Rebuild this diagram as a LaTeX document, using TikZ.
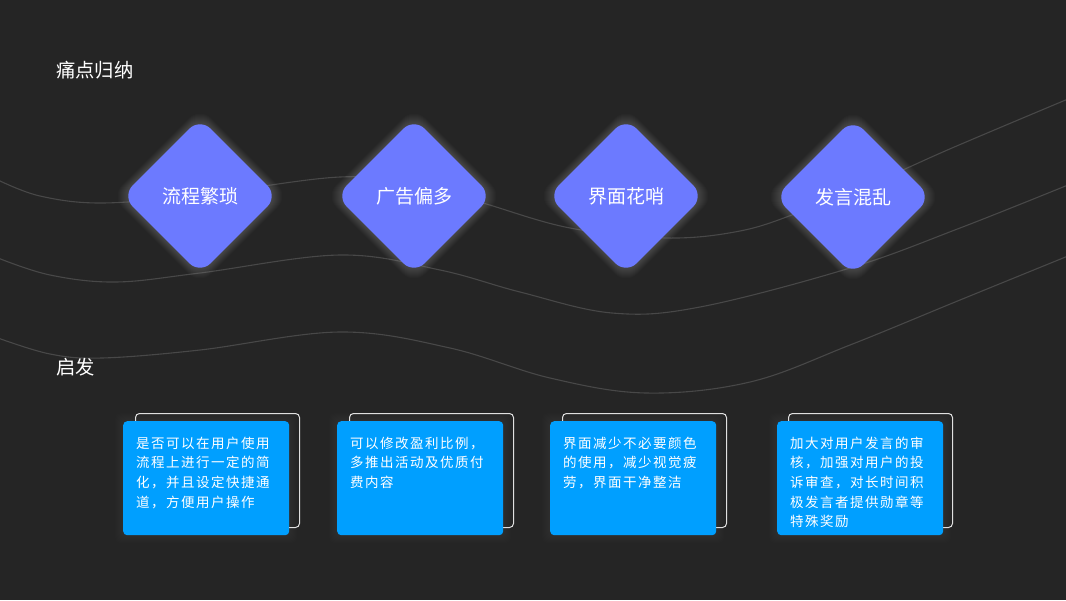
\documentclass[tikz,border=0pt]{standalone}
\usepackage{fontspec}
\setmainfont{Noto Sans CJK SC}
\newfontfamily\cardfont[LetterSpace=11]{Noto Sans CJK SC}
\usetikzlibrary{shapes.geometric}
\definecolor{bg}{RGB}{37,37,37}
\definecolor{dia}{RGB}{108,122,255}
\definecolor{cardblue}{RGB}{0,159,255}
\definecolor{wave}{RGB}{72,72,72}
\tikzset{
  wavecurve/.style={draw=wave, line width=1.1pt},
  title/.style={anchor=west, inner sep=0pt, text=white, font=\fontsize{19.3}{19.3}\selectfont},
  diabox/.style={diamond, aspect=1, minimum size=156pt, inner sep=0pt, rounded corners=15pt,
     fill=dia, text=white, font=\fontsize{19}{19}\selectfont},
  card/.style={rectangle, anchor=north west, inner sep=0pt, minimum width=166pt, minimum height=114pt,
     fill=cardblue, rounded corners=4pt},
  cardline/.style={rectangle, anchor=north west, inner sep=0pt, minimum width=164pt, minimum height=114pt,
     draw=white!88!black, line width=1pt, rounded corners=4pt},
  cardtext/.style={anchor=north west, inner sep=0pt, text=white, align=left, text width=160pt,
     font=\cardfont\fontsize{13.5}{19.7}\selectfont},
}
\newcommand{\glowdia}[2]{%
  \foreach \k in {1,...,12}{%
    \pgfmathsetmacro{\h}{77+\k}%
    \fill[white, opacity=0.014, rounded corners=16pt]
      (#1+\h/2,#2-\h/2) -- (#1+\h,#2) -- (#1,#2+\h) -- (#1-\h,#2) -- (#1,#2-\h) -- cycle;
  }%
}
\newcommand{\glowcard}[2]{%
  \foreach \k in {1,...,8}{%
    \fill[white, opacity=0.008, rounded corners=6pt]
      (#1-\k,#2-\k) rectangle (#1+166+\k,#2+114+\k);
  }%
}
\begin{document}
\begin{tikzpicture}[x=1pt,y=-1pt]
\fill[bg] (0,0) rectangle (1066,600);
\useasboundingbox (0,0) rectangle (1066,600);

% waves
\draw[wavecurve] plot[smooth, tension=0.6] coordinates {(-2,180) (40,196) (102,203) (200,195) (340,177) (420,185) (483,203) (570,228) (666,238) (740,231) (800,212) (880,180) (952,148) (1068,99)};
\draw[wavecurve] plot[smooth, tension=0.6] coordinates {(-2,258) (50,275) (116,282) (200,273) (340,255) (440,270) (520,292) (612,313) (700,307) (850,268) (960,228) (1068,185)};
\draw[wavecurve] plot[smooth, tension=0.6] coordinates {(-2,338) (50,354) (102,358) (200,350) (340,332) (450,348) (550,378) (646,393) (750,382) (850,345) (960,300) (1068,256)};

% titles
\node[title] (t1) at (56,70) {痛点归纳};
\node[title] (t2) at (56,367) {启发};

% diamonds
\glowdia{200}{196}
\glowdia{414}{196}
\glowdia{626}{196}
\glowdia{853}{197}
\node[diabox] (d1) at (200,196) {流程繁琐};
\node[diabox] (d2) at (414,196) {广告偏多};
\node[diabox] (d3) at (626,196) {界面花哨};
\node[diabox] (d4) at (853,197) {发言混乱};

% cards
\glowcard{123}{421}
\glowcard{337}{421}
\glowcard{550}{421}
\glowcard{777}{421}
\node[cardline] (o1) at (135,413) {};
\node[cardline] (o2) at (349,413) {};
\node[cardline] (o3) at (562,413) {};
\node[cardline] (o4) at (788,413) {};
\node[card] (c1) at (123,421) {};
\node[card] (c2) at (337,421) {};
\node[card] (c3) at (550,421) {};
\node[card] (c4) at (777,421) {};

\node[cardtext] (x1) at (136,436.5) {是否可以在用户使用\\流程上进行一定的简\\化，并且设定快捷通\\道，方便用户操作};
\node[cardtext] (x2) at (350,436.5) {可以修改盈利比例，\\多推出活动及优质付\\费内容};
\node[cardtext] (x3) at (563,436.5) {界面减少不必要颜色\\的使用，减少视觉疲\\劳，界面干净整洁};
\node[cardtext] (x4) at (790,436.5) {加大对用户发言的审\\核，加强对用户的投\\诉审查，对长时间积\\极发言者提供勋章等\\特殊奖励};
\end{tikzpicture}
\end{document}
